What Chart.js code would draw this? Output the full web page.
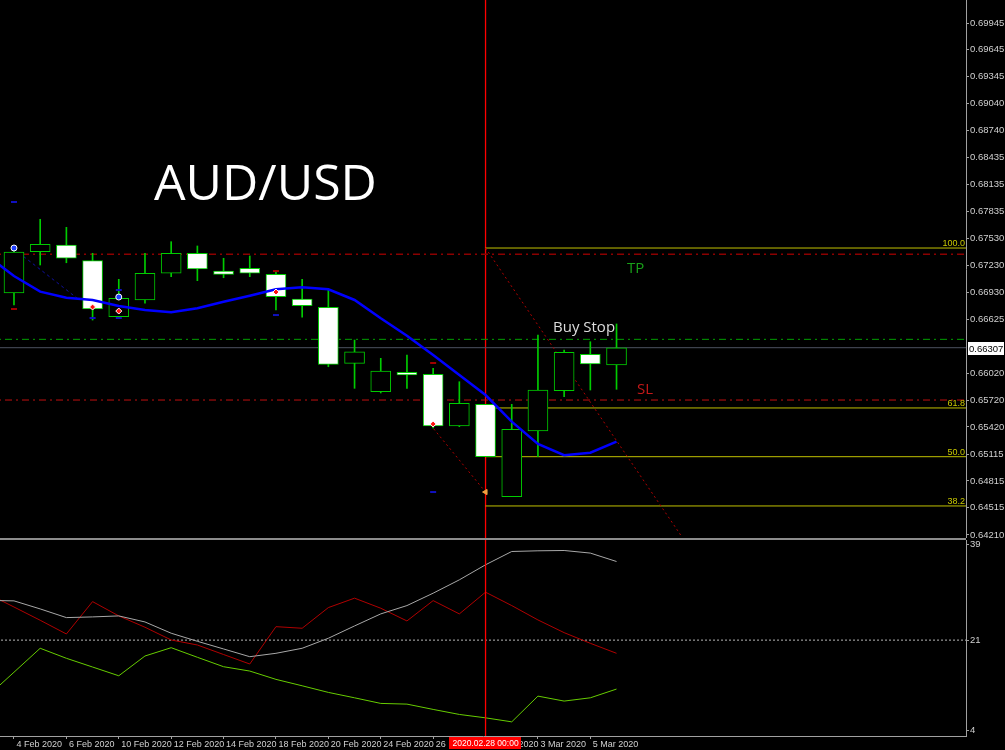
<!DOCTYPE html>
<html>
<head>
<meta charset="utf-8">
<title>AUD/USD</title>
<script src="https://cdn.jsdelivr.net/npm/chart.js@4.4.0/dist/chart.umd.min.js"></script>
<style>
  body { margin: 0; background: #000; }
  #wrap { position: relative; width: 1005px; height: 750px; overflow: hidden; }
  #main { position: absolute; left: 0; top: 0; }
  #ind { position: absolute; left: 0; top: 538px; }
</style>
</head>
<body>
<div id="wrap">
  <canvas id="main" width="1005" height="538"></canvas>
  <canvas id="ind" width="1005" height="212"></canvas>
</div>
<script>
// daily bars, first one (3 Feb) is off screen on the left
const barDays = ['3 Feb 2020', '4 Feb 2020', '5 Feb 2020', '6 Feb 2020', '7 Feb 2020',
  '10 Feb 2020', '11 Feb 2020', '12 Feb 2020', '13 Feb 2020', '14 Feb 2020',
  '17 Feb 2020', '18 Feb 2020', '19 Feb 2020', '20 Feb 2020', '21 Feb 2020',
  '24 Feb 2020', '25 Feb 2020', '26 Feb 2020', '27 Feb 2020', '28 Feb 2020',
  '2 Mar 2020', '3 Mar 2020', '4 Mar 2020', '5 Mar 2020', '6 Mar 2020'];

const opens  = [null, 0.66920, 0.67383, 0.67458, 0.67282, 0.66654, 0.66842, 0.67141, 0.67365, 0.67166, 0.67197, 0.67129, 0.66853, 0.66760, 0.66132, 0.65814, 0.66031, 0.66009, 0.65430, 0.65673, 0.64638, 0.65374, 0.65825, 0.66233, 0.66113];
const highs  = [null, 0.67413, 0.67746, 0.67656, 0.67365, 0.67073, 0.67365, 0.67495, 0.67447, 0.67309, 0.67335, 0.67159, 0.67073, 0.66954, 0.66393, 0.66188, 0.66225, 0.66076, 0.65926, 0.65673, 0.65673, 0.66449, 0.66281, 0.66374, 0.66573];
const lows   = [null, 0.66786, 0.67234, 0.67259, 0.66617, 0.66640, 0.66805, 0.67103, 0.67058, 0.67091, 0.67103, 0.66730, 0.66648, 0.66094, 0.65852, 0.65800, 0.65852, 0.65407, 0.65422, 0.65086, 0.64638, 0.65086, 0.65758, 0.65833, 0.65841];
const closes = [null, 0.67379, 0.67466, 0.67309, 0.66741, 0.66861, 0.67141, 0.67365, 0.67189, 0.67129, 0.67141, 0.66879, 0.66778, 0.66121, 0.66262, 0.66046, 0.66001, 0.65430, 0.65684, 0.65086, 0.65393, 0.65833, 0.66256, 0.66125, 0.66307];

// moving average (blue)
const maValues = [0.67335, 0.67110, 0.66935, 0.66867, 0.66842, 0.66774, 0.66730, 0.66704, 0.66749, 0.66822, 0.66890, 0.66961, 0.66984, 0.66961, 0.66842, 0.66637, 0.66442, 0.66225, 0.66001, 0.65777, 0.65478, 0.65228, 0.65102, 0.65131, 0.65254];

// lower panel (ADX style)
const adxMain  = [28.50, 28.41, 26.89, 25.25, 25.38, 25.57, 24.43, 22.30, 20.78, 19.33, 17.87, 18.51, 19.46, 21.35, 23.68, 25.95, 27.52, 29.86, 32.38, 35.22, 37.73, 37.86, 37.92, 37.43, 35.84];
const adxRed   = [29.73, 27.25, 24.75, 22.16, 28.27, 25.57, 23.43, 21.03, 20.08, 18.28, 16.49, 23.54, 23.24, 27.14, 28.92, 27.02, 24.62, 28.46, 25.95, 30.05, 27.52, 24.81, 22.41, 20.40, 18.51];
const adxGreen = [10.43, 14.94, 19.46, 17.57, 15.92, 14.27, 18.00, 19.57, 17.76, 15.98, 15.16, 13.59, 12.38, 11.13, 10.11, 9.05, 8.92, 7.92, 6.97, 6.33, 5.57, 10.43, 9.49, 10.11, 11.76];
const adxLevel = 21;
const adxTicks = [4, 21, 39];

// price levels
const currentPrice = 0.66307;
const tpLevel = 0.67353;
const buyStopLevel = 0.66401;
const slLevel = 0.65721;
const fibLevels = [0.67424, 0.65632, 0.65086, 0.64534];
const fibLabels = ['100.0', '61.8', '50.0', '38.2'];
const fibStartDay = '28 Feb 2020';
const markerDay = '28 Feb 2020';
const markerStamp = '2020.02.28 00:00';

// drawn trend lines: [bar, price]
const fibTrendLine = [[18, 0.67424], [25.5, 0.64186]];
const arrowTrendLine = [[15.9, 0.65441], [18, 0.64690]];
const blueTrendLine = [[0, 0.67413], [2.4, 0.66864]];

// trade arrows and fractal dashes: [bar, price]
const blueMarks = [[0, 0.67424], [4, 0.66875]];
const redMarks = [[3, 0.66763], [4, 0.66718], [10, 0.66931], [16, 0.65452]];
const orangeMarks = [[18, 0.64690]];
const blueDashes = [[0, 0.67940], [3, 0.66640], [4, 0.66954], [4, 0.66640], [10, 0.66673], [16, 0.64690]];
const redDashes = [[0, 0.66741], [10, 0.67166], [16, 0.66136]];

const priceTicks = [0.69945, 0.69645, 0.69345, 0.69040, 0.68740, 0.68435, 0.68135, 0.67835, 0.67530, 0.67230,
  0.66930, 0.66625, 0.66020, 0.65720, 0.65420, 0.65115, 0.64815, 0.64515, 0.64210];

const X_MIN = -0.534, X_MAX = 36.34;
const AXIS_W = 39;
const axisGray = '#a0a0a0';
const candleGreen = '#00cc00';
const markerRed = '#ff1010';

const toPts = arr => arr.map(p => ({ x: p[0], y: p[1] }));
const series = vals => vals.map((v, k) => ({ x: k - 1, y: v }));
const hLine = (y, from) => [{ x: from, y: y }, { x: X_MAX + 5, y: y }];
const fibStart = barDays.indexOf(fibStartDay) - 1;
const markerX = barDays.indexOf(markerDay) - 1;

const bodies = [], wicks = [];
opens.forEach((o, k) => {
  if (o == null) return;
  bodies.push({ x: k - 1, y: [o, closes[k]] });
  wicks.push({ x: k - 1, y: [lows[k], highs[k]] });
});

function line(data, color, width, dash, order) {
  return { type: 'line', data: data, borderColor: color, borderWidth: width, borderDash: dash || [],
    pointRadius: 0, tension: 0, fill: false, order: order };
}

// stop chart.js from reserving room for edge labels
function noPad(s) {
  s.paddingTop = 0; s.paddingBottom = 0; s.paddingLeft = 0; s.paddingRight = 0;
}

const mainDecor = {
  id: 'mainDecor',
  afterDatasetsDraw(chart) {
    const ctx = chart.ctx, ys = chart.scales.y;
    ctx.save();
    ctx.fillStyle = '#ffffff';
    ctx.font = '50px "Open Sans"';
    ctx.textBaseline = 'alphabetic';
    ctx.fillText('AUD/USD', 154, 200);

    ctx.font = '15px "Open Sans"';
    ctx.fillStyle = '#18a018';
    ctx.fillText('TP', 627, 273);
    ctx.fillStyle = '#dcdcdc';
    ctx.fillText('Buy Stop', 553, 332);
    ctx.fillStyle = '#c41818';
    ctx.fillText('SL', 637, 394);

    // fib level captions
    ctx.font = '9px "Liberation Sans"';
    ctx.fillStyle = '#c8c800';
    ctx.textAlign = 'right';
    fibLevels.forEach((lv, i) => {
      ctx.fillText(fibLabels[i], chart.chartArea.right - 1, ys.getPixelForValue(lv) - 2);
    });
    ctx.restore();
  },
  afterDraw(chart) {
    const ctx = chart.ctx, ys = chart.scales.y;
    const y = Math.round(ys.getPixelForValue(currentPrice));
    const x = chart.chartArea.right + 2;
    ctx.save();
    ctx.fillStyle = '#ffffff';
    ctx.fillRect(x, y - 6, 36, 13);
    ctx.fillStyle = '#000000';
    ctx.font = '9.5px "Liberation Sans"';
    ctx.textBaseline = 'middle';
    ctx.fillText(currentPrice.toFixed(5), x + 1, y + 1);
    ctx.restore();
  }
};

new Chart(document.getElementById('main'), {
  type: 'bar',
  data: {
    datasets: [
      { type: 'scatter', data: toPts(blueMarks), pointStyle: 'circle', pointRadius: 3,
        backgroundColor: '#2040ff', borderColor: '#ffffff', borderWidth: 1, order: 0 },
      { type: 'scatter', data: toPts(redMarks), pointStyle: 'rectRot', pointRadius: 3,
        backgroundColor: markerRed, borderColor: '#ffffff', borderWidth: 1, order: 0 },
      { type: 'scatter', data: toPts(orangeMarks), pointStyle: 'triangle', rotation: -90, pointRadius: 3,
        backgroundColor: '#f0a040', borderColor: '#f0a040', borderWidth: 1, order: 0 },
      { type: 'scatter', data: toPts(blueDashes), pointStyle: 'line', pointRadius: 3,
        borderColor: '#1010c0', borderWidth: 2, order: 0 },
      { type: 'scatter', data: toPts(redDashes), pointStyle: 'line', pointRadius: 3,
        borderColor: '#a00000', borderWidth: 2, order: 0 },
      line(series(maValues), '#0000ff', 2.5, null, 1),
      { type: 'bar', data: bodies, grouped: false, barThickness: 20, borderWidth: 1, borderSkipped: false,
        borderColor: candleGreen,
        backgroundColor: c => (c.raw.y[1] >= c.raw.y[0] ? '#000000' : '#ffffff'), order: 2 },
      { type: 'bar', data: wicks, grouped: false, barThickness: 1, borderWidth: 0,
        backgroundColor: candleGreen, order: 3 },
      line(toPts(fibTrendLine), '#b00000', 1, [2, 3], 4),
      line(toPts(arrowTrendLine), '#b00000', 1, [2, 3], 4),
      line(toPts(blueTrendLine), '#1010a0', 1, [3, 3], 4),
      line(hLine(tpLevel, X_MIN - 5), '#8c0000', 1.5, [7, 4, 2, 4], 5),
      line(hLine(slLevel, X_MIN - 5), '#c01010', 1, [7, 4, 2, 4], 5),
      line(hLine(buyStopLevel, X_MIN - 5), '#00a000', 1, [7, 4, 2, 4], 5),
      line(hLine(currentPrice, X_MIN - 5), '#4c5260', 1, null, 5),
      ...fibLevels.map(lv => line(hLine(lv, fibStart), '#c0c000', 1, null, 5)),
      line([{ x: markerX, y: 0.5 }, { x: markerX, y: 0.8 }], '#ff0000', 1.3, null, 6)
    ]
  },
  options: {
    responsive: false,
    animation: false,
    layout: { padding: 0, autoPadding: false },
    plugins: { legend: { display: false }, tooltip: { enabled: false } },
    scales: {
      x: { type: 'linear', min: X_MIN, max: X_MAX, display: false, offset: false },
      y: {
        position: 'right', min: 0.64175, max: 0.70203,
        afterFit: s => { s.width = AXIS_W; noPad(s); },
        afterBuildTicks: s => { s.ticks = priceTicks.map(v => ({ value: v })); },
        grid: { drawOnChartArea: false, drawTicks: true, tickLength: 3, color: axisGray },
        border: { display: true, color: axisGray, width: 1 },
        ticks: { color: '#d0d0d0', font: { family: 'Liberation Sans', size: 9.5 }, padding: 1,
          autoSkip: false, callback: v => v.toFixed(5) }
      }
    }
  },
  plugins: [mainDecor]
});

const indDecor = {
  id: 'indDecor',
  beforeDraw(chart) {
    const ctx = chart.ctx;
    ctx.save();
    ctx.fillStyle = '#8c8c8c';
    ctx.fillRect(0, 0, chart.chartArea.right, 2);
    ctx.restore();
  },
  afterDraw(chart) {
    const ctx = chart.ctx, xs = chart.scales.x;
    const cx = xs.getPixelForValue(markerX);
    const top = chart.chartArea.bottom + 1;
    ctx.save();
    ctx.font = '8.5px "Liberation Sans"';
    const w = ctx.measureText(markerStamp).width + 6;
    ctx.fillStyle = '#ff0000';
    ctx.fillRect(Math.round(cx - w / 2), top, Math.round(w), 12);
    ctx.fillStyle = '#ffffff';
    ctx.textAlign = 'center';
    ctx.textBaseline = 'middle';
    ctx.fillText(markerStamp, cx, top + 6.5);
    ctx.restore();
  }
};

new Chart(document.getElementById('ind'), {
  type: 'line',
  data: {
    datasets: [
      line(series(adxMain), '#a8a8a8', 1, null, 1),
      line(series(adxRed), '#b00000', 1, null, 2),
      line(series(adxGreen), '#66cc00', 1, null, 3),
      line(hLine(adxLevel, X_MIN - 5), '#b8b8b8', 1, [2, 2], 4),
      line([{ x: markerX, y: -10 }, { x: markerX, y: 60 }], '#ff0000', 1.3, null, 0)
    ]
  },
  options: {
    responsive: false,
    animation: false,
    layout: { padding: { top: 2 }, autoPadding: false },
    plugins: { legend: { display: false }, tooltip: { enabled: false } },
    scales: {
      x: {
        type: 'linear', min: X_MIN, max: X_MAX, position: 'bottom',
        afterFit: s => { s.height = 14; noPad(s); },
        afterBuildTicks: s => {
          const t = [];
          for (let k = 1; k < barDays.length; k += 2) t.push({ value: k - 1 });
          s.ticks = t;
        },
        grid: { drawOnChartArea: false, drawTicks: true, tickLength: 3, color: axisGray },
        border: { display: true, color: axisGray, width: 1 },
        ticks: { color: '#d0d0d0', font: { family: '"Liberation Sans Narrow", "Liberation Sans"', size: 9 },
          align: 'start', padding: 0, maxRotation: 0, autoSkip: false,
          callback: v => ' ' + barDays[v + 1] }
      },
      y: {
        position: 'right', min: 2.9, max: 39.9,
        afterFit: s => { s.width = AXIS_W; noPad(s); },
        afterBuildTicks: s => { s.ticks = adxTicks.map(v => ({ value: v })); },
        grid: { drawOnChartArea: false, drawTicks: true, tickLength: 3, color: axisGray },
        border: { display: true, color: axisGray, width: 1 },
        ticks: { color: '#d0d0d0', font: { family: 'Liberation Sans', size: 9.5 }, padding: 1,
          autoSkip: false, callback: v => String(v) }
      }
    }
  },
  plugins: [indDecor]
});
</script>
</body>
</html>
